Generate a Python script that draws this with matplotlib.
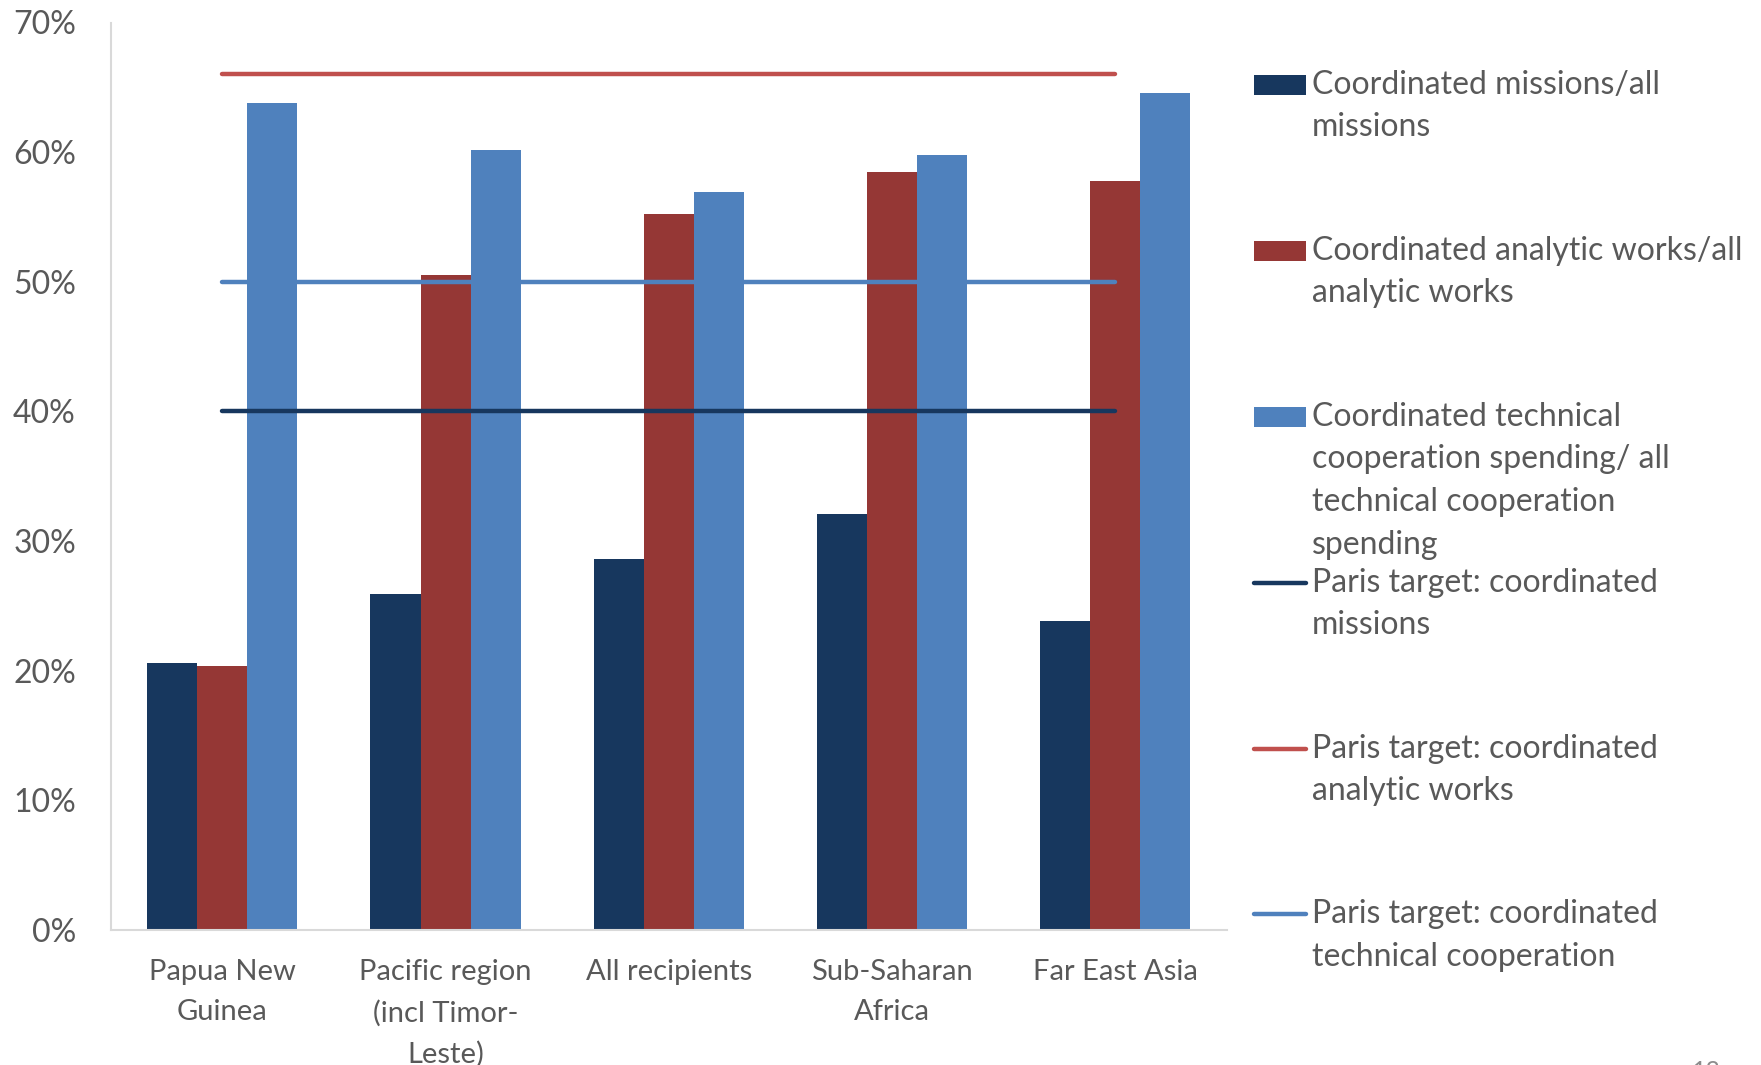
import numpy as np
import matplotlib
matplotlib.use("Agg")
import matplotlib.pyplot as plt
from matplotlib.ticker import PercentFormatter, MultipleLocator
from matplotlib.patches import Rectangle
from matplotlib.lines import Line2D

# ---- data ----
categories = ["Papua New\nGuinea", "Pacific region\n(incl Timor-\nLeste)",
              "All recipients", "Sub-Saharan\nAfrica", "Far East Asia"]
missions = [0.206, 0.259, 0.286, 0.321, 0.238]
analytic = [0.204, 0.505, 0.552, 0.585, 0.578]
technical = [0.638, 0.602, 0.569, 0.598, 0.646]
target_missions = 0.40
target_analytic = 0.66
target_technical = 0.50

bar_labels = ["Coordinated missions/all\nmissions",
              "Coordinated analytic works/all\nanalytic works",
              "Coordinated technical\ncooperation spending/ all\ntechnical cooperation\nspending"]
line_labels = ["Paris target: coordinated\nmissions",
               "Paris target: coordinated\nanalytic works",
               "Paris target: coordinated\ntechnical cooperation"]

# ---- style ----
FONT = "Lato"
TEXT = "#595959"
GRID = "#D9D9D9"
C_DARK = "#17375E"
C_RED = "#953735"
C_BLUE = "#4F81BD"
C_RED_LINE = "#C0504D"

W, H = 1761, 1065
fig = plt.figure(figsize=(W / 100, H / 100), dpi=100)
ax = fig.add_axes([110.6 / W, 1 - 930 / H, (1227 - 110.6) / W, (930 - 22.5) / H])

x = np.arange(len(categories))
bw = 0.224
series = [(missions, C_DARK), (analytic, C_RED), (technical, C_BLUE)]
for k, (vals, col) in enumerate(series):
    ax.bar(x + (k - 1) * bw, vals, width=bw, color=col, linewidth=0, zorder=2)

targets = [(target_missions, C_DARK), (target_analytic, C_RED_LINE), (target_technical, C_BLUE)]
for val, col in targets:
    ax.plot(x, [val] * len(x), color=col, lw=3.2, solid_capstyle="round", zorder=3)

ax.set_xlim(-0.5, len(categories) - 0.5)
ax.set_ylim(0, 0.70)
ax.yaxis.set_major_locator(MultipleLocator(0.10))
ax.yaxis.set_major_formatter(PercentFormatter(1.0, decimals=0))
ax.set_xticks(x)
ax.set_xticklabels(categories, linespacing=1.65)

for side in ("top", "right"):
    ax.spines[side].set_visible(False)
for side in ("left", "bottom"):
    ax.spines[side].set_color(GRID)
    ax.spines[side].set_linewidth(1.5)

ax.tick_params(axis="y", length=0, pad=25, labelsize=23, labelcolor=TEXT)
ax.tick_params(axis="x", length=0, pad=21, labelsize=21, labelcolor=TEXT)
for lab in ax.get_yticklabels() + ax.get_xticklabels():
    lab.set_fontfamily(FONT)

# ---- legend (fixed pitch entries) ----
first_line_y = [85, 251, 417, 583, 749, 914]
line_step = 42.5
tx = 1312 / W
entries = [("patch", C_DARK, bar_labels[0]),
           ("patch", C_RED, bar_labels[1]),
           ("patch", C_BLUE, bar_labels[2]),
           ("line", C_DARK, line_labels[0]),
           ("line", C_RED_LINE, line_labels[1]),
           ("line", C_BLUE, line_labels[2])]
for (kind, col, label), yp in zip(entries, first_line_y):
    yc = 1 - yp / H
    if kind == "patch":
        fig.add_artist(Rectangle((1254 / W, yc - 10.3 / H), 52 / W, 20.6 / H,
                                 transform=fig.transFigure, color=col, lw=0))
    else:
        fig.add_artist(Line2D([1254 / W, 1306 / W], [yc, yc], transform=fig.transFigure,
                              color=col, lw=3.2, solid_capstyle="round"))
    for j, line in enumerate(label.split("\n")):
        fig.text(tx, 1 - (yp + j * line_step) / H, line, ha="left", va="center",
                 fontsize=23, color=TEXT, fontfamily=FONT)

# page number at the bottom edge
fig.text(1706 / W, 1 - 1060 / H, "13", ha="center", va="top", fontsize=18,
         color="#8C8C8C", fontfamily=FONT)

fig.savefig("out.png", dpi=100, facecolor="white")
